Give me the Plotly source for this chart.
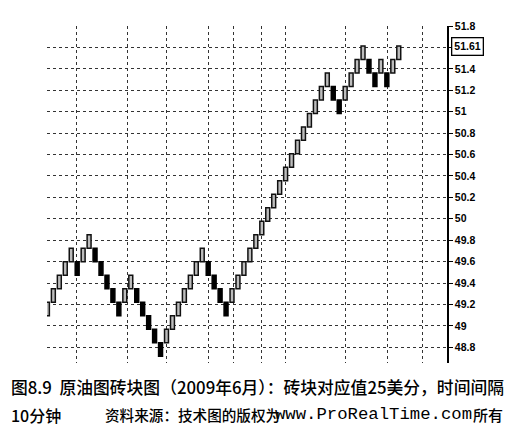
import plotly.graph_objects as go

# ---------------- data ----------------
# brick level (in bricks above the reference level) for each renko brick, left to right
brick_level = [0, 1, 2, 3, 4, 3, 4, 5, 4, 3, 2, 1, 0, 1, 2, 1, 0, -1, -2, -3,
               -2, -1, 0, 1, 2, 3, 4, 3, 2, 1, 0, 1, 2, 3, 4, 5, 6, 7, 8, 9,
               10, 11, 12, 13, 14, 15, 16, 17, 16, 15, 16, 17, 18, 19, 18, 17, 18, 17, 18, 19]
brick_size = 0.126          # price height of one brick
base_price = 49.094         # price of the bottom of level-0 brick
last_price = 51.61

y_ticks = [48.8, 49.0, 49.2, 49.4, 49.6, 49.8, 50.0, 50.2, 50.4, 50.6, 50.8,
           51.0, 51.2, 51.4, 51.6, 51.8]
y_tick_labels = ["48.8", "49", "49.2", "49.4", "49.6", "49.8", "50", "50.2", "50.4",
                 "50.6", "50.8", "51", "51.2", "51.4", "", "51.8"]
# time grid positions (in brick units)
time_grid = [4.95, 13.4, 20.0, 27.0, 31.25, 36.0, 40.05, 50.05, 57.1, 62.95]

caption_1 = "图8.9  原油图砖块图（2009年6月）：砖块对应值25美分，时间间隔"
caption_2a = "10分钟"
caption_2b = "资料来源：技术图的版权为"
caption_2c = "www.ProRealTime.com"
caption_2d = "所有"

# ---------------- layout geometry ----------------
W, H = 519, 428
L, R, T, B = 39, 80, 12, 73
PW, PH = W - L - R, H - T - B


def px_x(px):
    return (px - L) / PW


def px_y(py):
    return (H - B - py) / PH


n = len(brick_level)
xs = list(range(n))
lows = [base_price + brick_size * lv for lv in brick_level]
is_up = [True] + [brick_level[i] > brick_level[i - 1] for i in range(1, n)]

up_x = [x for x, u in zip(xs, is_up) if u]
up_base = [b for b, u in zip(lows, is_up) if u]
dn_x = [x for x, u in zip(xs, is_up) if not u]
dn_base = [b for b, u in zip(lows, is_up) if not u]

fig = go.Figure()
fig.add_trace(go.Bar(x=up_x, y=[brick_size] * len(up_x), base=up_base, width=0.66,
                     marker=dict(color="#bdbdbd", line=dict(color="#111", width=1.5)),
                     showlegend=False, hoverinfo="skip"))
fig.add_trace(go.Bar(x=dn_x, y=[brick_size] * len(dn_x), base=dn_base, width=0.66,
                     marker=dict(color="#000", line=dict(color="#000", width=1.5)),
                     showlegend=False, hoverinfo="skip"))

fig.update_layout(
    width=W, height=H,
    margin=dict(l=L, r=R, t=T, b=B, pad=0),
    paper_bgcolor="white", plot_bgcolor="white",
    barmode="overlay",
    font=dict(family="Liberation Sans, Arial, sans-serif", color="#000"),
    xaxis=dict(range=[-0.067, 67.1], tickvals=time_grid, showticklabels=False,
               ticks="", showgrid=True, gridcolor="#333", griddash="dot", gridwidth=1,
               zeroline=False, showline=False, fixedrange=True),
    yaxis=dict(range=[48.653, 51.8], side="right", tickvals=y_ticks, ticktext=y_tick_labels,
               ticks="outside", ticklen=4, tickwidth=1, tickcolor="#000",
               showline=True, linecolor="#000", linewidth=1.5,
               showgrid=True, gridcolor="#333", griddash="dot", gridwidth=1,
               zeroline=False,
               tickfont=dict(size=10.5, family="Liberation Sans, Arial, sans-serif",
                             color="#000", weight="bold")),
)

fig.add_annotation(x=px_x(443), xref="paper", y=last_price, yref="y",
                   xanchor="left", yanchor="middle", text="51.61", showarrow=False,
                   bordercolor="#000", borderwidth=1.3, borderpad=2, bgcolor="white",
                   font=dict(size=10.5, family="Liberation Sans, Arial, sans-serif",
                             color="#000", weight="bold"))

cjk = "Noto Sans CJK SC, sans-serif"
fig.add_annotation(x=px_x(1), xref="paper", y=px_y(379), yref="paper",
                   xanchor="left", yanchor="middle", text=caption_1, showarrow=False,
                   font=dict(size=16.8, family=cjk, color="#000", weight=500))
fig.add_annotation(x=px_x(1), xref="paper", y=px_y(407.5), yref="paper",
                   xanchor="left", yanchor="middle", text=caption_2a, showarrow=False,
                   font=dict(size=16, family=cjk, color="#000", weight=500))
fig.add_annotation(x=px_x(95), xref="paper", y=px_y(407.5), yref="paper",
                   xanchor="left", yanchor="middle", text=caption_2b, showarrow=False,
                   font=dict(size=14.6, family=cjk, color="#000", weight=500))
fig.add_annotation(x=px_x(265), xref="paper", y=px_y(407.5), yref="paper",
                   xanchor="left", yanchor="middle", text=caption_2c, showarrow=False,
                   font=dict(size=17.3, family="Liberation Mono, Courier New, monospace",
                             color="#000"))
fig.add_annotation(x=px_x(463), xref="paper", y=px_y(407.5), yref="paper",
                   xanchor="left", yanchor="middle", text=caption_2d, showarrow=False,
                   font=dict(size=15, family=cjk, color="#000", weight=500))

fig.write_html("out.html")
